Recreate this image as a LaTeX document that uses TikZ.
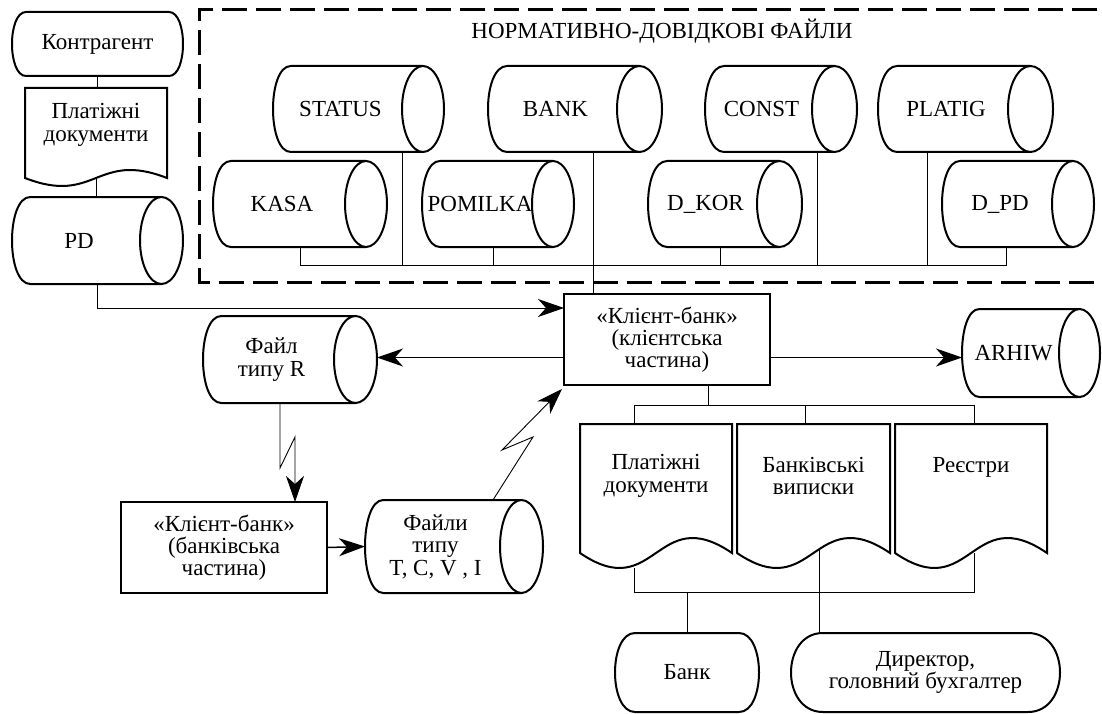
\documentclass[tikz,border=0pt]{standalone}
\usepackage{fontspec}
\setmainfont{Liberation Serif}
\usetikzlibrary{arrows.meta}

\tikzset{
  area/.style={draw=none, inner sep=0pt, outer sep=0pt},
  txt/.style={inner sep=0pt, align=center, font=\fontsize{23}{22.5}\selectfont},
  outline/.style={line width=2pt},
  procbox/.style={draw, line width=1.6pt, inner sep=0pt, outer sep=0pt,
    minimum width=206pt, minimum height=91pt, align=center,
    font=\fontsize{23}{22}\selectfont},
  conn/.style={line width=0.9pt},
  tip/.style={-{Stealth[length=26pt,width=18pt,inset=8pt]}},
  flow/.style={line width=1.5pt, tip},
  link/.style={line width=0.9pt, tip},
  frame/.style={line width=3pt, dash pattern=on 25pt off 9pt},
}

% horizontal storage cylinder: name, x1, y1, x2, y2, end radius, label
\newcommand\cylinder[7]{%
  \pgfmathsetmacro\cyW{#4-#2}%
  \pgfmathsetmacro\cyH{#5-#3}%
  \pgfmathsetmacro\cyR{(#5-#3)/2}%
  \pgfmathsetmacro\cyM{(#3+#5)/2}%
  \pgfmathsetmacro\cyE{#4-#6}%
  \pgfmathsetmacro\cyA{#2+0.85*#6}%
  \pgfmathsetmacro\cyC{#2-0.2833*#6}%
  \pgfmathsetmacro\cyT{(#2+#4-2*#6)/2+3}%
  \node[area, minimum width=\cyW pt, minimum height=\cyH pt] (#1) at ({(#2+#4)/2},\cyM) {};
  \draw[outline] (\cyA,#3) -- (\cyE,#3) (\cyA,#5) -- (\cyE,#5)
    (\cyA,#3) .. controls (\cyC,#3) and (\cyC,#5) .. (\cyA,#5)
    (\cyE,\cyM) ellipse [x radius=#6pt, y radius=\cyR pt];
  \node[txt] (#1-t) at (\cyT,\cyM) {#7};
}

% terminal with rounded ends: name, x1, y1, x2, y2, end depth, label
\newcommand\terminal[7]{%
  \pgfmathsetmacro\tmW{#4-#2}%
  \pgfmathsetmacro\tmH{#5-#3}%
  \pgfmathsetmacro\tmL{#2+#6}%
  \pgfmathsetmacro\tmR{#4-#6}%
  \pgfmathsetmacro\tmLc{#2-#6/3}%
  \pgfmathsetmacro\tmRc{#4+#6/3}%
  \draw[outline] (\tmL,#3) -- (\tmR,#3) .. controls (\tmRc,#3) and (\tmRc,#5) .. (\tmR,#5)
    -- (\tmL,#5) .. controls (\tmLc,#5) and (\tmLc,#3) .. cycle;
  \node[txt, minimum width=\tmW pt, minimum height=\tmH pt] (#1) at ({(#2+#4)/2},{(#3+#5)/2}) {#7};
}

% paper document with wavy lower edge: name, x1, y1, x2, y-edge, wave amplitude, label, label y
\newcommand\docsheet[8]{%
  \pgfmathsetmacro\dsW{#4-#2}%
  \pgfmathsetmacro\dsH{#5-#3}%
  \pgfmathsetmacro\dsX{(#2+#4)/2}%
  \pgfmathsetmacro\dsD{#6/0.289}%
  \pgfmathsetmacro\dsU{#5-\dsD}%
  \pgfmathsetmacro\dsV{#5+\dsD}%
  \node[area, minimum width=\dsW pt, minimum height=\dsH pt] (#1) at (\dsX,{(#3+#5)/2}) {};
  \draw[outline] (#2,#5) -- (#2,#3) -- (#4,#3) -- (#4,#5)
    .. controls (\dsX,\dsU) and (\dsX,\dsV) .. cycle;
  \node[txt] (#1-t) at (\dsX,#8) {#7};
}

\begin{document}
\begin{tikzpicture}[x=1pt, y=-1pt]
\useasboundingbox (0,0) rectangle (1102,714);

% reference files group
\draw[frame] (1097,10) -- (199,10) -- (199,282) -- (1097,282);
\node[txt] (title) at (662,31) {НОРМАТИВНО-ДОВІДКОВІ ФАЙЛИ};

\cylinder{STATUS}{273}{66}{444}{152}{21}{STATUS}
\cylinder{BANK}{488}{66}{662}{152}{22.5}{BANK}
\cylinder{CONST}{705}{66}{857}{152}{22.5}{CONST}
\cylinder{PLATIG}{878}{66}{1053}{152}{22.5}{PLATIG}
\cylinder{KASA}{213}{161}{387}{247}{21}{KASA}
\cylinder{POMILKA}{422}{161}{574}{247}{21}{POMILKA}
\cylinder{DKOR}{648}{161}{802}{247}{22.5}{D\_KOR}
\cylinder{DPD}{942}{161}{1094}{247}{21}{D\_PD}

% counterparty and incoming documents
\terminal{kontr}{12}{12}{183}{76}{14}{Контрагент}
\docsheet{pdoc}{25}{88}{167}{178}{8}{Платіжні\\документи}{125}
\cylinder{PD}{12}{197}{183}{284}{21.5}{PD}

% client and bank parts
\node[procbox] (client) at (667,339.5) {«Клієнт-банк»\\(клієнтська\\частина)};
\node[procbox] (bankpart) at (224,547.5) {«Клієнт-банк»\\(банківська\\частина)};
\cylinder{ARHIW}{962}{309}{1100}{397}{20.5}{ARHIW}
\cylinder{FR}{203}{316}{377}{403}{21.5}{Файл\\типу R}
\cylinder{FT}{365}{500}{543}{593}{21.5}{Файли\\типу\\T, C, V , I}

% output documents and recipients
\docsheet{doc1}{580}{424}{732}{553}{15}{Платіжні\\документи}{476}
\docsheet{doc2}{737}{424}{890}{553}{15}{Банківські\\виписки}{476}
\docsheet{doc3}{895}{424}{1047}{553}{15}{Реєстри}{467}
\terminal{bankr}{615}{633}{759}{712}{20}{Банк}
\terminal{dir}{791}{633}{1060}{712}{32}{Директор,\\головний бухгалтер}

% counterparty chain
\draw[conn] (kontr.south) -- (kontr.south |- pdoc.north);
\draw[conn] (pdoc.south) -- (pdoc.south |- PD.north);
\draw[link] (PD.south) |- ([yshift=-14pt]client.north west);

% reference files bus
\coordinate (nbusL) at (300,265);
\coordinate (nbusR) at (1006,265);
\draw[conn] ([xshift=87pt]KASA.south west) -- (nbusL) -- (nbusR) -- ([xshift=64pt]DPD.south west);
\draw[conn] ([xshift=129pt]STATUS.south west) -- ([xshift=129pt]STATUS.south west |- nbusL);
\draw[conn] ([xshift=71pt]POMILKA.south west) -- ([xshift=71pt]POMILKA.south west |- nbusL);
\draw[conn] ([xshift=72pt]DKOR.south west) -- ([xshift=72pt]DKOR.south west |- nbusL);
\draw[conn] ([xshift=112pt]CONST.south west) -- ([xshift=112pt]CONST.south west |- nbusL);
\draw[conn] ([xshift=49pt]PLATIG.south west) -- ([xshift=49pt]PLATIG.south west |- nbusL);
\draw[conn] ([xshift=105pt]BANK.south west) -- ([xshift=105pt]BANK.south west |- client.north);

% client part outputs
\draw[flow] ([yshift=-18pt]client.east) -- ([yshift=-18pt]client.east -| ARHIW.west);
\draw[flow] ([yshift=-18pt]client.west) -- ([yshift=-18pt]client.west -| FR.east);

\coordinate (dbusL) at (634,405);
\coordinate (dbusR) at (974,405);
\draw[conn] ([xshift=41pt]client.south) -- ([xshift=41pt]client.south |- dbusL);
\draw[conn] ([xshift=-22pt]doc1.north) -- (dbusL) -- (dbusR) -- ([xshift=3pt]doc3.north);
\draw[conn] ([xshift=-8.5pt]doc2.north) -- ([xshift=-8.5pt]doc2.north |- dbusL);

\coordinate (rbusL) at (634,592);
\coordinate (rbusR) at (974,592);
\draw[conn] ([xshift=-22pt,yshift=-15pt]doc1.south) -- (rbusL) -- (rbusR) -- ([xshift=3pt]doc3.south);
\draw[conn] (bankr.north) -- (bankr.north |- rbusL);
\draw[conn] ([xshift=5.5pt,yshift=4pt]doc2.south) -- ([xshift=5.5pt]doc2.south |- dir.north);

% exchange with the bank part
\coordinate (zr1) at (280,468);
\coordinate (zr2) at (295,437);
\draw[link] ([xshift=77pt]FR.south west) -- (zr1) -- (zr2) -- (zr2 |- bankpart.north);
\draw[flow] (bankpart.east) -- (FT.west);
\coordinate (zt1) at (533,437);
\coordinate (zt2) at (502,450);
\draw[link] ([xshift=128pt]FT.north west) -- (zt1) -- (zt2) -- ([shift={(-2pt,-4pt)}]client.south west);
\end{tikzpicture}
\end{document}
